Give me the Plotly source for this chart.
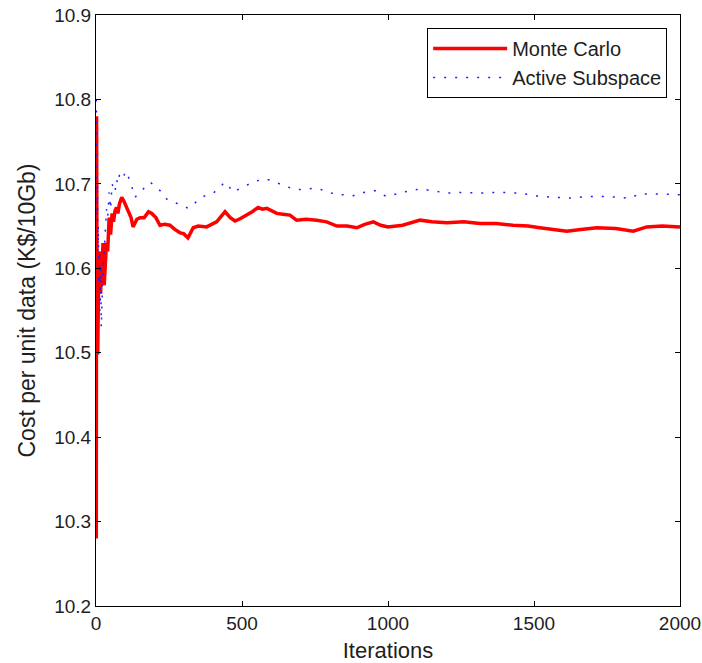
import plotly.graph_objects as go

red_iter = [1, 2, 3, 4, 6, 8, 10, 12, 14, 16, 18, 20, 24, 28, 32, 36, 40, 45, 50, 55, 60, 65, 70, 75, 80,
            88, 95, 100, 110, 120, 127, 140, 151, 165, 180, 191, 205, 219, 235, 253, 270, 288, 300, 315,
            333, 350, 379, 395, 413, 430, 442, 460, 476, 495, 516, 535, 555, 570, 585, 600, 619, 640, 664,
            687, 720, 756, 790, 825, 860, 893, 920, 950, 975, 1000, 1050, 1110, 1150, 1202, 1260, 1315,
            1370, 1428, 1480, 1520, 1570, 1612, 1660, 1715, 1780, 1840, 1886, 1940, 2000]
red_val = [10.28, 10.78, 10.72, 10.50, 10.50, 10.55, 10.62, 10.58, 10.60, 10.57, 10.62, 10.59, 10.63, 10.58,
           10.61, 10.63, 10.62, 10.66, 10.64, 10.665, 10.655, 10.668, 10.672, 10.665, 10.676,
           10.684, 10.680, 10.676, 10.668, 10.660, 10.649, 10.658, 10.660, 10.660, 10.667, 10.665, 10.660,
           10.651, 10.652, 10.651, 10.646, 10.642, 10.641, 10.636, 10.648, 10.650, 10.649, 10.652, 10.655,
           10.662, 10.667, 10.660, 10.656, 10.659, 10.663, 10.667, 10.672, 10.670, 10.671, 10.668, 10.665,
           10.664, 10.663, 10.657, 10.658, 10.657, 10.655, 10.650, 10.650, 10.648, 10.652, 10.655, 10.651,
           10.649, 10.651, 10.657, 10.655, 10.654, 10.655, 10.653, 10.653, 10.651, 10.650, 10.648, 10.646,
           10.644, 10.646, 10.648, 10.647, 10.644, 10.649, 10.650, 10.649]

blue_iter = [1, 2, 3, 4, 5, 6, 8, 10, 12, 14, 16, 18, 20, 24, 28, 32, 36, 40, 45, 50, 55, 60, 65, 70, 75,
             80, 88, 95, 100, 110, 120, 133, 150, 165, 185, 208, 225, 242, 260, 276, 295, 316, 335, 356,
             380, 402, 420, 442, 455, 470, 495, 516, 545, 579, 610, 641, 665, 687, 720, 756, 790, 825, 855,
             881, 920, 955, 975, 996, 1050, 1110, 1150, 1202, 1260, 1315, 1380, 1452, 1490, 1520, 1580,
             1634, 1680, 1750, 1829, 1860, 1930, 2000]
blue_val = [10.80, 10.78, 10.72, 10.66, 10.70, 10.62, 10.65, 10.58, 10.62, 10.55, 10.60, 10.53, 10.57, 10.60,
            10.62, 10.64, 10.67, 10.66, 10.69, 10.67, 10.70, 10.695, 10.69, 10.705, 10.70,
            10.71, 10.713, 10.708, 10.715, 10.709, 10.700, 10.684, 10.690, 10.695, 10.702, 10.696, 10.690,
            10.682, 10.680, 10.677, 10.674, 10.671, 10.676, 10.683, 10.687, 10.689, 10.695, 10.702, 10.697,
            10.690, 10.695, 10.698, 10.703, 10.706, 10.703, 10.698, 10.695, 10.693, 10.694, 10.695, 10.691,
            10.687, 10.687, 10.686, 10.690, 10.692, 10.688, 10.685, 10.690, 10.694, 10.692, 10.689, 10.690,
            10.689, 10.690, 10.689, 10.687, 10.685, 10.684, 10.683, 10.685, 10.685, 10.683, 10.688, 10.688,
            10.687]

x_ticks = [0, 500, 1000, 1500, 2000]
y_ticks = [10.2, 10.3, 10.4, 10.5, 10.6, 10.7, 10.8, 10.9]

fig = go.Figure()
fig.add_trace(go.Scatter(x=red_iter, y=red_val, mode="lines", name="Monte Carlo",
                         line=dict(color="#ff0000", width=3.5)))
fig.add_trace(go.Scatter(x=blue_iter, y=blue_val, mode="lines", name="Active Subspace",
                         line=dict(color="#2020ff", width=1.5, dash="2px,9px")))

font_fam = "Liberation Sans, Arial, sans-serif"
txt_col = "#1e1e1e"
axis_common = dict(showline=True, linecolor="#000", linewidth=1, mirror="ticks", ticks="inside",
                   ticklen=5, tickcolor="#000", showgrid=False, zeroline=False, automargin=False,
                   ticklabeloverflow="allow",
                   tickfont=dict(family=font_fam, size=19, color=txt_col))

fig.update_layout(
    width=702, height=663,
    margin=dict(l=96, r=22, t=15, b=57),
    paper_bgcolor="white", plot_bgcolor="white",
    showlegend=True,
    legend=dict(x=0.978, y=0.978, xanchor="right", yanchor="top",
                bordercolor="#000", borderwidth=1, bgcolor="white",
                font=dict(family=font_fam, size=20, color=txt_col),
                tracegroupgap=0, itemwidth=74),
    xaxis=dict(range=[0, 2000], tickvals=x_ticks, ticktext=[str(t) for t in x_ticks],
               title=dict(text="Iterations", font=dict(family=font_fam, size=22, color=txt_col), standoff=10),
               **axis_common),
    yaxis=dict(range=[10.2, 10.9], tickvals=y_ticks, ticktext=[f"{t:.1f}" for t in y_ticks],
               title=dict(text="Cost per unit data (K$/10Gb)", font=dict(family=font_fam, size=23, color=txt_col),
                          standoff=12),
               **axis_common),
)

# remove the default 8px page margin so the 702x663 figure fills the window exactly
fig.write_html("out.html", config={"displayModeBar": False},
               post_script="document.body.style.margin='0px'; document.body.style.overflow='hidden';")
